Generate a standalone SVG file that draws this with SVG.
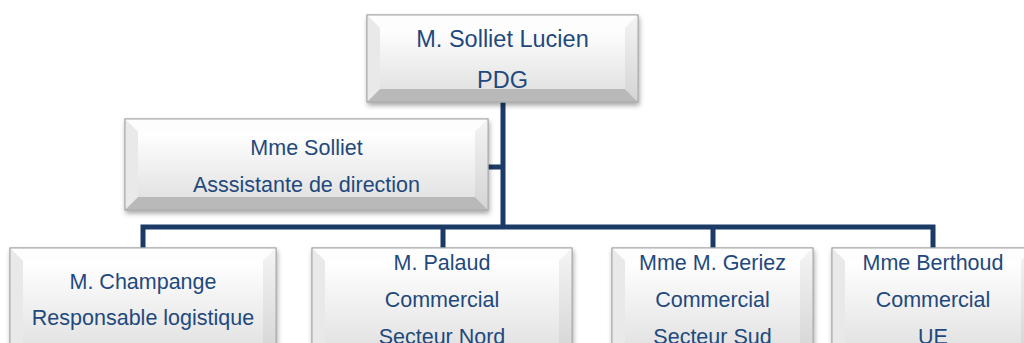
<svg xmlns="http://www.w3.org/2000/svg" width="1024" height="343" viewBox="0 0 1024 343">
<defs>
<linearGradient id="face" x1="0" y1="0" x2="0" y2="1">
<stop offset="0" stop-color="#ffffff"/>
<stop offset="1" stop-color="#e3e3e3"/>
</linearGradient>
<linearGradient id="rside" x1="0" y1="0" x2="0" y2="1">
<stop offset="0" stop-color="#f4f4f4"/>
<stop offset="1" stop-color="#d4d4d4"/>
</linearGradient>
<filter id="sh" x="-10%" y="-10%" width="120%" height="130%">
<feDropShadow dx="1" dy="3" stdDeviation="2.5" flood-color="#000" flood-opacity="0.35"/>
</filter>
</defs>
<style>
.edge{fill:#eeeeee;stroke:#a8a8a8;stroke-width:1}
.top{fill:#fdfdfd}
.left{fill:#e9e9e9}
.right{fill:url(#rside)}
.bot{fill:#b9b9b9}
.face{fill:url(#face)}
text{font-family:"Liberation Sans",Arial,sans-serif;font-size:21.5px;fill:#1F497D;text-anchor:middle}
.big{font-size:23.5px}
.conn{fill:none;stroke:#1b3a66;stroke-width:5;stroke-linejoin:miter}
</style>
<rect width="1024" height="343" fill="#ffffff"/>
<g id="connectors">
<path class="conn" d="M503 102 V227 M488 167 H503 M143 248 V227 H933 V248 M443 227 V248 M713 227 V248"/>
</g>
<g id="n-pdg" transform="translate(367,15)">
<g filter="url(#sh)">
<rect class="edge" x="0" y="0" width="271" height="87"/>
</g>
<polygon class="top" points="0,0 271,0 258,13 13,13"/>
<polygon class="left" points="0,0 13,13 13,74 0,87"/>
<polygon class="right" points="271,0 271,87 258,74 258,13"/>
<polygon class="bot" points="0,87 271,87 258,74 13,74"/>
<rect class="face" x="13" y="13" width="245" height="61"/>
<rect x="0" y="0" width="271" height="87" fill="none" stroke="#a8a8a8"/>
<text class="big" x="135.5" y="32">M. Solliet Lucien</text>
<text class="big" x="135.5" y="73">PDG</text>
</g>
<g id="n-assist" transform="translate(125,119)">
<g filter="url(#sh)">
<rect class="edge" x="0" y="0" width="363" height="91"/>
</g>
<polygon class="top" points="0,0 363,0 350,13 13,13"/>
<polygon class="left" points="0,0 13,13 13,78 0,91"/>
<polygon class="right" points="363,0 363,91 350,78 350,13"/>
<polygon class="bot" points="0,91 363,91 350,78 13,78"/>
<rect class="face" x="13" y="13" width="337" height="65"/>
<rect x="0" y="0" width="363" height="91" fill="none" stroke="#a8a8a8"/>
<text x="181.5" y="36">Mme Solliet</text>
<text x="181.5" y="73">Asssistante de direction</text>
</g>
<g id="n-champange" transform="translate(10,248)">
<g filter="url(#sh)">
<rect class="edge" x="0" y="0" width="266" height="110"/>
</g>
<polygon class="top" points="0,0 266,0 253,13 13,13"/>
<polygon class="left" points="0,0 13,13 13,97 0,110"/>
<polygon class="right" points="266,0 266,110 253,97 253,13"/>
<polygon class="bot" points="0,110 266,110 253,97 13,97"/>
<rect class="face" x="13" y="13" width="240" height="84"/>
<rect x="0" y="0" width="266" height="110" fill="none" stroke="#a8a8a8"/>
<text x="133" y="41">M. Champange</text>
<text x="133" y="77">Responsable logistique</text>
</g>
<g id="n-palaud" transform="translate(312,248)">
<g filter="url(#sh)">
<rect class="edge" x="0" y="0" width="260" height="110"/>
</g>
<polygon class="top" points="0,0 260,0 247,13 13,13"/>
<polygon class="left" points="0,0 13,13 13,97 0,110"/>
<polygon class="right" points="260,0 260,110 247,97 247,13"/>
<polygon class="bot" points="0,110 260,110 247,97 13,97"/>
<rect class="face" x="13" y="13" width="234" height="84"/>
<rect x="0" y="0" width="260" height="110" fill="none" stroke="#a8a8a8"/>
<text x="130" y="22">M. Palaud</text>
<text x="130" y="59">Commercial</text>
<text x="130" y="96">Secteur Nord</text>
</g>
<g id="n-geriez" transform="translate(612,248)">
<g filter="url(#sh)">
<rect class="edge" x="0" y="0" width="201" height="110"/>
</g>
<polygon class="top" points="0,0 201,0 188,13 13,13"/>
<polygon class="left" points="0,0 13,13 13,97 0,110"/>
<polygon class="right" points="201,0 201,110 188,97 188,13"/>
<polygon class="bot" points="0,110 201,110 188,97 13,97"/>
<rect class="face" x="13" y="13" width="175" height="84"/>
<rect x="0" y="0" width="201" height="110" fill="none" stroke="#a8a8a8"/>
<text x="100.5" y="22">Mme M. Geriez</text>
<text x="100.5" y="59">Commercial</text>
<text x="100.5" y="96">Secteur Sud</text>
</g>
<g id="n-berthoud" transform="translate(832,248)">
<g filter="url(#sh)">
<rect class="edge" x="0" y="0" width="202" height="110"/>
</g>
<polygon class="top" points="0,0 202,0 189,13 13,13"/>
<polygon class="left" points="0,0 13,13 13,97 0,110"/>
<polygon class="right" points="202,0 202,110 189,97 189,13"/>
<polygon class="bot" points="0,110 202,110 189,97 13,97"/>
<rect class="face" x="13" y="13" width="176" height="84"/>
<rect x="0" y="0" width="202" height="110" fill="none" stroke="#a8a8a8"/>
<text x="101" y="22">Mme Berthoud</text>
<text x="101" y="59">Commercial</text>
<text x="101" y="96">UE</text>
</g>
</svg>
